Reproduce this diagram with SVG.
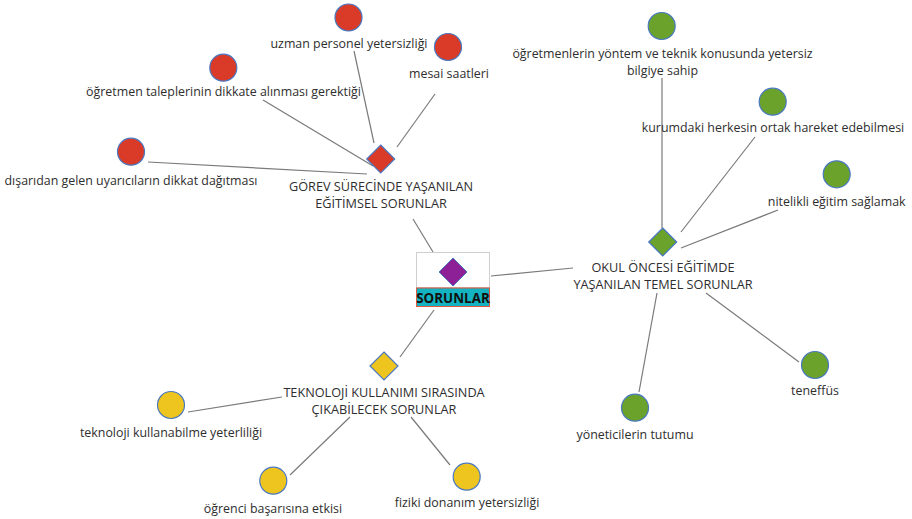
<svg xmlns="http://www.w3.org/2000/svg" width="912" height="519" viewBox="0 0 912 519">
<style>
text{font-family:"Open Sans","Noto Sans","Liberation Sans",sans-serif;font-size:12.4px;fill:#2e2e2e;text-anchor:middle}
.lbl{font-size:12.7px}
.e line{stroke:#7a7a7a;stroke-width:1.2}
.c{stroke:#4a78c0;stroke-width:1.2}
.red{fill:#da3a28}
.grn{fill:#6aa22b}
.yel{fill:#eec51e}
</style>
<rect width="912" height="519" fill="#fff"/>
<g class="e" id="connectors">
<line x1="354" y1="51" x2="374" y2="143"/>
<line x1="435" y1="94" x2="397" y2="147"/>
<line x1="263" y1="100" x2="373" y2="166"/>
<line x1="148" y1="162" x2="367" y2="174"/>
<line x1="413" y1="219" x2="433" y2="252"/>
<line x1="491" y1="276" x2="573" y2="268"/>
<line x1="662" y1="78" x2="662" y2="228"/>
<line x1="755" y1="137" x2="681" y2="232"/>
<line x1="778" y1="210" x2="681" y2="248"/>
<line x1="657" y1="293" x2="639" y2="392"/>
<line x1="706" y1="293" x2="799" y2="362"/>
<line x1="434" y1="310" x2="400" y2="357"/>
<line x1="188" y1="412" x2="282" y2="397"/>
<line x1="350" y1="417" x2="290" y2="475"/>
<line x1="411" y1="417" x2="450" y2="465"/>
</g>
<g id="center">
<rect x="416.5" y="252.5" width="73" height="35" fill="#fff" stroke="#cfcfcf"/>
<path d="M453 258 L467 272 L453 286 L439 272 Z" fill="#8d1f97" stroke="#4a78c0" stroke-width="1"/>
<rect x="416.5" y="288" width="73" height="18.5" fill="#13b3c1" stroke="#e2573d" stroke-width="1"/>
<text x="453" y="302.5" style="font-weight:bold;font-size:13.4px;fill:#111">SORUNLAR</text>
</g>
<g id="gorev">
<path d="M380.7 145 L394.7 159 L380.7 173 L366.7 159 Z" class="red c"/>
<text class="lbl" x="381" y="190.5">GÖREV SÜRECİNDE YAŞANILAN<tspan x="381" dy="17">EĞİTİMSEL SORUNLAR</tspan></text>
</g>
<g id="okul">
<path d="M662.7 228 L676.7 242 L662.7 256 L648.7 242 Z" class="grn c"/>
<text class="lbl" x="663" y="272">OKUL ÖNCESİ EĞİTİMDE<tspan x="663" dy="17">YAŞANILAN TEMEL SORUNLAR</tspan></text>
</g>
<g id="teknoloji">
<path d="M384 352 L398 366 L384 380 L370 366 Z" class="yel c"/>
<text class="lbl" x="384" y="396.5">TEKNOLOJİ KULLANIMI SIRASINDA<tspan x="384" dy="17">ÇIKABİLECEK SORUNLAR</tspan></text>
</g>
<g id="uzman"><circle cx="348.5" cy="17.5" r="13.5" class="red c"/><text x="349" y="48">uzman personel yetersizliği</text></g>
<g id="mesai"><circle cx="448" cy="47" r="13.5" class="red c"/><text x="449" y="78">mesai saatleri</text></g>
<g id="ogretmen-talep"><circle cx="223.3" cy="67.7" r="13.5" class="red c"/><text x="223.5" y="96">öğretmen taleplerinin dikkate alınması gerektiği</text></g>
<g id="disaridan"><circle cx="131" cy="151.7" r="13.5" class="red c"/><text x="131" y="185">dışarıdan gelen uyarıcıların dikkat dağıtması</text></g>
<g id="yontem"><circle cx="661.7" cy="26" r="13.5" class="grn c"/><text x="662.5" y="58">öğretmenlerin yöntem ve teknik konusunda yetersiz<tspan x="662.5" dy="17">bilgiye sahip</tspan></text></g>
<g id="kurumdaki"><circle cx="772.7" cy="101.7" r="13.5" class="grn c"/><text x="773" y="132">kurumdaki herkesin ortak hareket edebilmesi</text></g>
<g id="nitelikli"><circle cx="836.7" cy="174.3" r="13.5" class="grn c"/><text x="836.7" y="206">nitelikli eğitim sağlamak</text></g>
<g id="yonetici"><circle cx="635" cy="407.7" r="13.5" class="grn c"/><text x="635" y="439">yöneticilerin tutumu</text></g>
<g id="teneffus"><circle cx="815" cy="365" r="13.5" class="grn c"/><text x="815" y="395">teneffüs</text></g>
<g id="teknoloji-kull"><circle cx="171" cy="405" r="13.5" class="yel c"/><text x="171" y="437">teknoloji kullanabilme yeterliliği</text></g>
<g id="ogrenci"><circle cx="273.3" cy="480.7" r="13.5" class="yel c"/><text x="273" y="513">öğrenci başarısına etkisi</text></g>
<g id="fiziki"><circle cx="466.7" cy="476.7" r="13.5" class="yel c"/><text x="467" y="507">fiziki donanım yetersizliği</text></g>
</svg>
